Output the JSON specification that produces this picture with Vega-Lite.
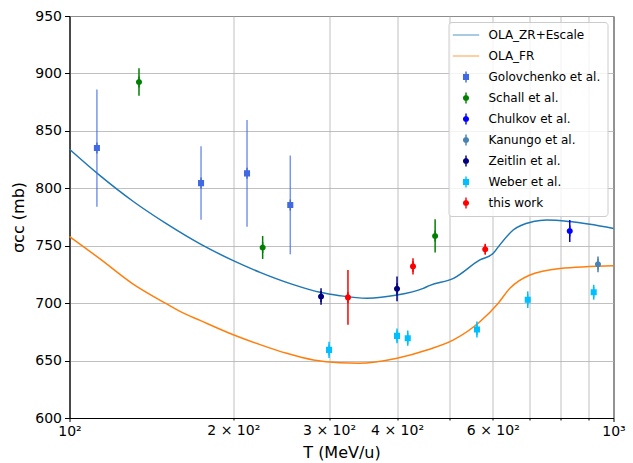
{
  "$schema": "https://vega.github.io/schema/vega-lite/v6.json",
  "width": 544,
  "height": 402,
  "autosize": "none",
  "padding": {"left": 69.5, "top": 16, "right": 19.5, "bottom": 45},
  "background": "white",
  "datasets": {
    "curves": [
      {"T": 100, "sigma": 834, "model": "OLA_ZR+Escale"},
      {"T": 113.8, "sigma": 811, "model": "OLA_ZR+Escale"},
      {"T": 131, "sigma": 788.5, "model": "OLA_ZR+Escale"},
      {"T": 150.9, "sigma": 769, "model": "OLA_ZR+Escale"},
      {"T": 173.8, "sigma": 751.6, "model": "OLA_ZR+Escale"},
      {"T": 200, "sigma": 737, "model": "OLA_ZR+Escale"},
      {"T": 224, "sigma": 726.8, "model": "OLA_ZR+Escale"},
      {"T": 257.9, "sigma": 716.1, "model": "OLA_ZR+Escale"},
      {"T": 288.7, "sigma": 709.4, "model": "OLA_ZR+Escale"},
      {"T": 314, "sigma": 706.5, "model": "OLA_ZR+Escale"},
      {"T": 352, "sigma": 704.3, "model": "OLA_ZR+Escale"},
      {"T": 400, "sigma": 707, "model": "OLA_ZR+Escale"},
      {"T": 447, "sigma": 712.9, "model": "OLA_ZR+Escale"},
      {"T": 460, "sigma": 715.5, "model": "OLA_ZR+Escale"},
      {"T": 508, "sigma": 721.6, "model": "OLA_ZR+Escale"},
      {"T": 568, "sigma": 737.6, "model": "OLA_ZR+Escale"},
      {"T": 601, "sigma": 743.4, "model": "OLA_ZR+Escale"},
      {"T": 614, "sigma": 749, "model": "OLA_ZR+Escale"},
      {"T": 654, "sigma": 763.7, "model": "OLA_ZR+Escale"},
      {"T": 712, "sigma": 771, "model": "OLA_ZR+Escale"},
      {"T": 754, "sigma": 772.4, "model": "OLA_ZR+Escale"},
      {"T": 832, "sigma": 771, "model": "OLA_ZR+Escale"},
      {"T": 1000, "sigma": 765, "model": "OLA_ZR+Escale"},
      {"T": 100, "sigma": 758, "model": "OLA_FR"},
      {"T": 113.8, "sigma": 738.5, "model": "OLA_FR"},
      {"T": 130.1, "sigma": 717.5, "model": "OLA_FR"},
      {"T": 150.9, "sigma": 699.3, "model": "OLA_FR"},
      {"T": 159.6, "sigma": 692.8, "model": "OLA_FR"},
      {"T": 173.8, "sigma": 685, "model": "OLA_FR"},
      {"T": 200, "sigma": 672.5, "model": "OLA_FR"},
      {"T": 224, "sigma": 663.9, "model": "OLA_FR"},
      {"T": 250.8, "sigma": 656.3, "model": "OLA_FR"},
      {"T": 280.7, "sigma": 650.5, "model": "OLA_FR"},
      {"T": 314, "sigma": 648, "model": "OLA_FR"},
      {"T": 340, "sigma": 647.6, "model": "OLA_FR"},
      {"T": 400, "sigma": 652, "model": "OLA_FR"},
      {"T": 454, "sigma": 659.2, "model": "OLA_FR"},
      {"T": 508, "sigma": 668, "model": "OLA_FR"},
      {"T": 568, "sigma": 683.8, "model": "OLA_FR"},
      {"T": 614, "sigma": 700, "model": "OLA_FR"},
      {"T": 645, "sigma": 712.9, "model": "OLA_FR"},
      {"T": 702, "sigma": 724.5, "model": "OLA_FR"},
      {"T": 797, "sigma": 730.2, "model": "OLA_FR"},
      {"T": 1000, "sigma": 732.6, "model": "OLA_FR"}
    ],
    "measurements": [
      {"T": 112.3, "sigma": 835, "err": 51, "series": "Golovchenko et al."},
      {"T": 174.5, "sigma": 804.5, "err": 32, "series": "Golovchenko et al."},
      {"T": 212, "sigma": 813, "err": 46.5, "series": "Golovchenko et al."},
      {"T": 254.6, "sigma": 785.5, "err": 43, "series": "Golovchenko et al."},
      {"T": 134.2, "sigma": 892.5, "err": 12, "series": "Schall et al."},
      {"T": 226.5, "sigma": 748.5, "err": 10, "series": "Schall et al."},
      {"T": 470, "sigma": 758.5, "err": 14.5, "series": "Schall et al."},
      {"T": 831, "sigma": 762.8, "err": 9.6, "series": "Chulkov et al."},
      {"T": 936.5, "sigma": 733.8, "err": 6.8, "series": "Kanungo et al."},
      {"T": 290, "sigma": 705.7, "err": 7.2, "series": "Zeitlin et al."},
      {"T": 400, "sigma": 712.5, "err": 10.8, "series": "Zeitlin et al."},
      {"T": 300, "sigma": 659.3, "err": 7, "series": "Weber et al."},
      {"T": 400, "sigma": 671.5, "err": 6.5, "series": "Weber et al."},
      {"T": 418.6, "sigma": 669.5, "err": 6.6, "series": "Weber et al."},
      {"T": 561, "sigma": 677, "err": 7, "series": "Weber et al."},
      {"T": 695.6, "sigma": 703, "err": 7.2, "series": "Weber et al."},
      {"T": 919.6, "sigma": 709.5, "err": 6.5, "series": "Weber et al."},
      {"T": 325, "sigma": 705, "err": 23.8, "series": "this work"},
      {"T": 428, "sigma": 732, "err": 7, "series": "this work"},
      {"T": 581, "sigma": 747, "err": 4, "series": "this work"}
    ]
  },
  "encoding": {
    "x": {
      "field": "T",
      "type": "quantitative",
      "scale": {"type": "log", "domain": [100, 1000], "nice": false},
      "axis": {
        "title": "T (MeV/u)",
        "values": [100, 200, 300, 400, 500, 600, 700, 800, 900, 1000],
        "labelExpr": "datum.value == 100 ? '10²' : datum.value == 1000 ? '10³' : (datum.value == 200 || datum.value == 300 || datum.value == 400 || datum.value == 600) ? (datum.value / 100) + ' × 10²' : ''",
        "labelFlush": false,
        "labelPadding": 3,
        "titlePadding": 6,
        "tickSize": {"condition": {"test": "datum.value == 100 || datum.value == 1000", "value": 3.5}, "value": 2}
      }
    },
    "y": {
      "field": "sigma",
      "type": "quantitative",
      "scale": {"domain": [600, 950], "nice": false, "zero": false},
      "axis": {
        "title": "σᴄᴄ (mb)",
        "values": [600, 650, 700, 750, 800, 850, 900, 950],
        "labelPadding": 3,
        "titlePadding": 8
      }
    }
  },
  "layer": [
    {
      "data": {"name": "curves"},
      "mark": {"type": "line", "strokeWidth": 1.5, "interpolate": "monotone"},
      "encoding": {
        "color": {"field": "model", "type": "nominal", "legend": null}
      }
    },
    {
      "data": {"name": "measurements"},
      "mark": {"type": "errorbar", "ticks": false, "rule": {"strokeWidth": 1.5}},
      "encoding": {
        "yError": {"field": "err"},
        "color": {"field": "series", "type": "nominal", "legend": null},
        "opacity": {"condition": {"test": "datum.series === 'Golovchenko et al.'", "value": 0.7}, "value": 1}
      }
    },
    {
      "data": {"name": "measurements"},
      "mark": {"type": "point", "filled": true, "size": 121, "opacity": 1, "strokeWidth": 0},
      "encoding": {
        "color": {
          "field": "series",
          "type": "nominal",
          "scale": {
            "domain": ["OLA_ZR+Escale", "OLA_FR", "Golovchenko et al.", "Schall et al.", "Chulkov et al.", "Kanungo et al.", "Zeitlin et al.", "Weber et al.", "this work"],
            "range": ["#1f77b4", "#ff7f0e", "#4169e1", "#008000", "#0000ff", "#4682b4", "#000080", "#00bfff", "#ff0000"]
          },
          "legend": {"title": null}
        },
        "shape": {
          "field": "series",
          "type": "nominal",
          "scale": {
            "domain": ["OLA_ZR+Escale", "OLA_FR", "Golovchenko et al.", "Schall et al.", "Chulkov et al.", "Kanungo et al.", "Zeitlin et al.", "Weber et al.", "this work"],
            "range": [
              "M-2.4,-0.07H2.4V0.07H-2.4Z",
              "M-2.4,-0.07H2.4V0.07H-2.4Z",
              "M-0.13,-1H0.13V-0.55H0.55V0.55H0.13V1H-0.13V0.55H-0.55V-0.55H-0.13Z",
              "M-0.13,-1H0.13V1H-0.13Z M-0.55,0A0.55,0.55 0 1,1 0.55,0A0.55,0.55 0 1,1 -0.55,0Z",
              "M-0.13,-1H0.13V1H-0.13Z M-0.55,0A0.55,0.55 0 1,1 0.55,0A0.55,0.55 0 1,1 -0.55,0Z",
              "M-0.13,-1H0.13V1H-0.13Z M-0.55,0A0.55,0.55 0 1,1 0.55,0A0.55,0.55 0 1,1 -0.55,0Z",
              "M-0.13,-1H0.13V1H-0.13Z M-0.55,0A0.55,0.55 0 1,1 0.55,0A0.55,0.55 0 1,1 -0.55,0Z",
              "M-0.13,-1H0.13V-0.55H0.55V0.55H0.13V1H-0.13V0.55H-0.55V-0.55H-0.13Z",
              "M-0.13,-1H0.13V1H-0.13Z M-0.55,0A0.55,0.55 0 1,1 0.55,0A0.55,0.55 0 1,1 -0.55,0Z"
            ]
          },
          "legend": {"title": null}
        }
      }
    }
  ],
  "resolve": {"legend": {"color": "independent", "shape": "independent", "opacity": "independent"}},
  "config": {
    "font": "DejaVu Sans",
    "view": {"stroke": "#000000", "strokeWidth": 1},
    "axis": {
      "domainColor": "#000000",
      "domainWidth": 1,
      "tickColor": "#000000",
      "tickWidth": 1,
      "grid": true,
      "gridColor": "#b0b0b0",
      "gridWidth": 0.8,
      "labelColor": "#000000",
      "labelFont": "DejaVu Sans",
      "labelFontSize": 14,
      "titleColor": "#000000",
      "titleFont": "DejaVu Sans",
      "titleFontSize": 16,
      "titleFontWeight": "normal"
    },
    "legend": {
      "orient": "top-right",
      "offset": 6,
      "padding": 7,
      "fillColor": "rgba(255,255,255,0.8)",
      "strokeColor": "#cccccc",
      "cornerRadius": 3,
      "labelFont": "DejaVu Sans",
      "labelFontSize": 12,
      "labelColor": "#000000",
      "symbolSize": 121,
      "symbolStrokeWidth": 0,
      "symbolOffset": 4.5,
      "labelOffset": 16.5,
      "rowPadding": 9,
      "labelLimit": 300
    }
  }
}
